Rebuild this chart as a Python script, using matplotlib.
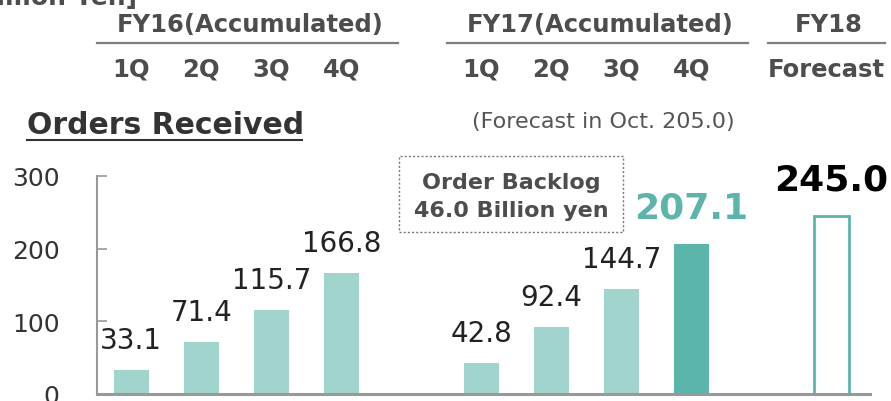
import matplotlib
matplotlib.use("Agg")
import matplotlib.pyplot as plt
from matplotlib.lines import Line2D
from matplotlib.patches import Rectangle
import matplotlib.transforms as mtransforms

# ---- data ----
fy16_labels = ["1Q", "2Q", "3Q", "4Q"]
fy16_values = [33.1, 71.4, 115.7, 166.8]
fy17_labels = ["1Q", "2Q", "3Q", "4Q"]
fy17_values = [42.8, 92.4, 144.7, 207.1]
fy18_label = "Forecast"
fy18_value = 245.0
yticks = [0, 100, 200, 300]

W, H = 891, 402
fig = plt.figure(figsize=(W / 100, H / 100), dpi=100)
plt.rcParams['font.family'] = ['DejaVu Sans']

def fx(px):
    return px / W

def fy(py):
    return 1 - py / H

# axes area in pixels
ax = fig.add_axes([fx(97), fy(395), fx(870) - fx(97), fy(177) - fy(395)])

light = "#A0D4CD"
dark = "#5BB5AA"
gray_txt = "#4D4D4D"
axis_col = "#999999"

x16 = [i for i in range(len(fy16_values))]
x17 = [len(fy16_values) + 1 + i for i in range(len(fy17_values))]
x18 = x17[-1] + 2
bw = 0.5

ax.bar(x16, fy16_values, width=bw, color=light, linewidth=0)
ax.bar(x17[:-1], fy17_values[:-1], width=bw, color=light, linewidth=0)
ax.bar(x17[-1], fy17_values[-1], width=bw, color=dark, linewidth=0)
ax.bar(x18, fy18_value, width=bw, facecolor="white", edgecolor=dark, linewidth=2)

for x, v in zip(x16 + x17[:-1], fy16_values + fy17_values[:-1]):
    ax.annotate(f"{v:.1f}", (x, v), xytext=(0, 16), textcoords="offset points",
                ha="center", va="baseline", fontsize=20, color="#222222")
ax.annotate(f"{fy17_values[-1]:.1f}", (x17[-1], fy17_values[-1]), xytext=(0, 19),
            textcoords="offset points", ha="center", va="baseline", fontsize=26,
            fontweight="bold", color=dark)
ax.annotate(f"{fy18_value:.1f}", (x18, fy18_value), xytext=(0, 19),
            textcoords="offset points", ha="center", va="baseline", fontsize=26,
            fontweight="bold", color="black", annotation_clip=False)

ax.set_xlim(-0.49, 10.55)
ax.set_ylim(0, 300)
ax.set_yticks(yticks)
ax.set_xticks([])
for s in ["top", "right"]:
    ax.spines[s].set_visible(False)
ax.spines["left"].set_color(axis_col)
ax.spines["left"].set_linewidth(1.5)
ax.spines["bottom"].set_color(axis_col)
ax.spines["bottom"].set_linewidth(2.2)
ax.tick_params(axis="y", direction="in", length=7, width=1.2, color=axis_col,
               pad=27, labelsize=18, labelcolor="#333333")
for lbl in ax.get_yticklabels():
    lbl.set_clip_on(False)

# ---- header ----
fig.text(fx(137), fy(5), "[Billion Yen]", fontsize=18, fontweight="bold",
         color=gray_txt, ha="right", va="baseline")

hdr_fs = 17.5
fig.text(fx(250), fy(25), "FY16(Accumulated)", fontsize=hdr_fs, fontweight="bold",
         color=gray_txt, ha="center", va="center")
fig.text(fx(600), fy(25), "FY17(Accumulated)", fontsize=hdr_fs, fontweight="bold",
         color=gray_txt, ha="center", va="center")
fig.text(fx(829), fy(25), "FY18", fontsize=hdr_fs, fontweight="bold",
         color=gray_txt, ha="center", va="center")
for x0, x1 in [(97, 398), (447, 748), (768, 885)]:
    fig.add_artist(Line2D([fx(x0), fx(x1)], [fy(44), fy(44)], color="#7F7F7F",
                          linewidth=1.6, transform=fig.transFigure))

trans = mtransforms.blended_transform_factory(ax.transData, fig.transFigure)
for x, lab in zip(x16 + x17, fy16_labels + fy17_labels):
    ax.text(x, fy(70), lab, transform=trans, fontsize=hdr_fs, fontweight="bold",
            color=gray_txt, ha="center", va="center", clip_on=False)
fig.text(fx(826), fy(70), fy18_label, fontsize=hdr_fs, fontweight="bold",
         color=gray_txt, ha="center", va="center")

# title
fig.text(fx(27), fy(126), "Orders Received", fontsize=21.5, fontweight="bold",
         color="#333333", ha="left", va="center")
fig.add_artist(Line2D([fx(27), fx(302)], [fy(141), fy(141)], color="#333333",
                      linewidth=1.5, transform=fig.transFigure))

fig.text(fx(603), fy(122), "(Forecast in Oct. 205.0)", fontsize=16,
         color="#555555", ha="center", va="center")

# dotted box
fig.add_artist(Rectangle((fx(399), fy(233)), fx(623) - fx(399), fy(157) - fy(233),
                         transform=fig.transFigure, fill=False, edgecolor="#777777",
                         linestyle=(0, (1.5, 1.5)), linewidth=1))
fig.text(fx(511), fy(183), "Order Backlog", fontsize=16, fontweight="bold",
         color=gray_txt, ha="center", va="center")
fig.text(fx(511), fy(211), "46.0 Billion yen", fontsize=16, fontweight="bold",
         color=gray_txt, ha="center", va="center")

fig.savefig("out.png", dpi=100)
